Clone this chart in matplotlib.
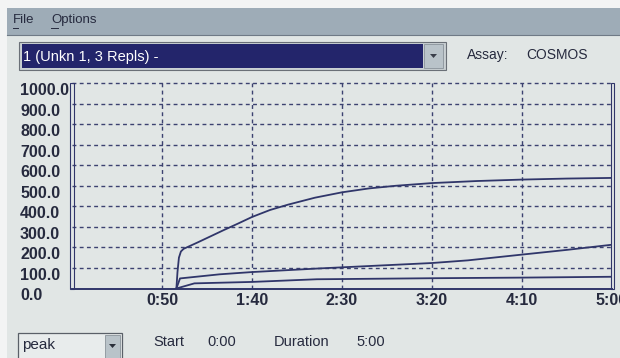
import matplotlib
matplotlib.use("Agg")
import matplotlib.pyplot as plt
from matplotlib.patches import Rectangle, Polygon
from matplotlib.lines import Line2D

# ---------------- data ----------------
x_ticks = [50, 100, 150, 200, 250, 300]
x_tick_labels = ["0:50", "1:40", "2:30", "3:20", "4:10", "5:00"]
y_ticks = [0, 100, 200, 300, 400, 500, 600, 700, 800, 900, 1000]
y_tick_labels = ["0.0", "100.0", "200.0", "300.0", "400.0", "500.0",
                 "600.0", "700.0", "800.0", "900.0", "1000.0"]

rep1_t = [58, 58.6, 59.4, 60.5, 62, 70, 84, 92, 100, 110, 120, 135, 150, 165, 180,
          200, 225, 250, 275, 299]
rep1_v = [0, 80, 150, 180, 193, 225, 283, 315, 348, 382, 408, 442, 468, 487, 500,
          513, 523, 530, 535, 538]

rep2_t = [58, 60, 82, 100, 136, 150, 200, 220, 250, 275, 299]
rep2_v = [0, 49, 69, 80, 97, 103, 124, 137, 165, 188, 212]

rep3_t = [58, 68, 100, 136, 150, 200, 250, 299]
rep3_v = [0, 25, 32, 45, 46, 50, 53, 57]

# ---------------- figure ----------------
W, H = 620, 358
fig = plt.figure(figsize=(W / 100, H / 100), dpi=100)
BG = "#e1e6e5"
fig.patch.set_facecolor(BG)
FONT = ["Liberation Sans", "DejaVu Sans"]
TXT = "#262a3e"
LINE = "#30366a"


def fx(px):
    return px / W


def fy(py):
    return 1 - py / H


# photo border strip + menu bar
fig.add_artist(Rectangle((0, fy(8)), 1, 8 / H, transform=fig.transFigure,
                         facecolor="#f3f4f4", edgecolor="none", zorder=0))
fig.add_artist(Rectangle((0, 0), 7 / W, 1, transform=fig.transFigure,
                         facecolor="#f3f4f4", edgecolor="none", zorder=0))
fig.add_artist(Rectangle((fx(7), fy(35)), 1, 27 / H, transform=fig.transFigure,
                         facecolor="#9eacb7", edgecolor="none", zorder=0))
fig.add_artist(Line2D([fx(7), 1], [fy(35), fy(35)], transform=fig.transFigure,
                      color="#6f7a86", lw=0.8))
fig.text(fx(13), fy(20), "File", family=FONT, fontsize=9.5, color=TXT, va="center")
fig.text(fx(51), fy(20), "Options", family=FONT, fontsize=9.5, color=TXT, va="center")
fig.add_artist(Line2D([fx(13), fx(18)], [fy(28), fy(28)], transform=fig.transFigure, color=TXT, lw=0.7))
fig.add_artist(Line2D([fx(51), fx(58)], [fy(28), fy(28)], transform=fig.transFigure, color=TXT, lw=0.7))

# sample dropdown
fig.add_artist(Rectangle((fx(19), fy(70)), 427 / W, 28 / H, transform=fig.transFigure,
                         facecolor="#c9d0d3", edgecolor="#6a7077", lw=0.8))
fig.add_artist(Rectangle((fx(22), fy(68)), 401 / W, 24 / H, transform=fig.transFigure,
                         facecolor="#23256b", edgecolor="none"))
fig.add_artist(Rectangle((fx(424), fy(68)), 19 / W, 24 / H, transform=fig.transFigure,
                         facecolor="#b9c3c9", edgecolor="#8a939a", lw=0.6))
fig.add_artist(Polygon([[fx(430), fy(54)], [fx(437), fy(54)], [fx(433.5), fy(58)]],
                       closed=True, transform=fig.transFigure, facecolor="#3a3f4a", edgecolor="none"))
fig.text(fx(23), fy(56.5), "1 (Unkn 1, 3 Repls) -", family=FONT, fontsize=10.5,
         color="white", va="center")
fig.text(fx(467), fy(55), "Assay:", family=FONT, fontsize=10, color=TXT, va="center")
fig.text(fx(526), fy(55), "COSMOS", family=FONT, fontsize=10, color=TXT, va="center")

# ---------------- chart ----------------
ax = fig.add_axes([fx(72), fy(288.5), 540 / W, 205.5 / H])
ax.set_facecolor(BG)
ax.set_xlim(0, 300)
ax.set_ylim(0, 1000)

for s in ("top", "left", "right"):
    ax.spines[s].set_visible(False)
ax.spines["bottom"].set_color(LINE)
ax.spines["bottom"].set_linewidth(1.4)

ax.set_xticks(x_ticks)
ax.set_xticklabels(x_tick_labels)
ax.set_yticks(y_ticks)
ax.set_yticklabels(y_tick_labels)
ax.tick_params(axis="both", length=0, colors=TXT, labelsize=11.5)
ax.tick_params(axis="x", pad=3.0)
ax.tick_params(axis="y", pad=37.4)
for lab in ax.get_xticklabels():
    lab.set_family(FONT)
    lab.set_weight("bold")
    lab.set_verticalalignment("top")
for lab in ax.get_yticklabels():
    lab.set_family(FONT)
    lab.set_weight("bold")
    lab.set_horizontalalignment("left")
    lab.set_verticalalignment("top")

grid_kw = dict(color="#3c4270", lw=1.0, linestyle=(0, (2.8, 2.4)))
for v in y_ticks[1:]:
    ax.axhline(v, clip_on=False, zorder=1, **grid_kw)
for t in x_ticks[:-1]:
    ax.axvline(t, zorder=1, **grid_kw)

for t, v in ((rep1_t, rep1_v), (rep2_t, rep2_v), (rep3_t, rep3_v)):
    ax.plot(t, v, color=LINE, lw=1.3, zorder=3)

# double borders left and right
for x0 in (70, 610.5):
    fig.add_artist(Rectangle((fx(x0), fy(289)), 3.5 / W, 206 / H, transform=fig.transFigure,
                             facecolor="none", edgecolor=LINE, lw=0.8, zorder=5))

# ---------------- bottom controls ----------------
fig.add_artist(Rectangle((fx(18), fy(362)), 104 / W, 29 / H, transform=fig.transFigure,
                         facecolor="#e8ecec", edgecolor="#5a6068", lw=0.9))
fig.add_artist(Rectangle((fx(105), fy(360)), 15 / W, 25 / H, transform=fig.transFigure,
                         facecolor="#b9c3c9", edgecolor="#8a939a", lw=0.6))
fig.add_artist(Polygon([[fx(109), fy(344)], [fx(116), fy(344)], [fx(112.5), fy(348)]],
                       closed=True, transform=fig.transFigure, facecolor="#2a2f3a", edgecolor="none"))
fig.text(fx(22), fy(345), "peak", family=FONT, fontsize=11, color=TXT, va="center")
fig.text(fx(153), fy(342), "Start", family=FONT, fontsize=10.5, color=TXT, va="center")
fig.text(fx(207), fy(342), "0:00", family=FONT, fontsize=10.5, color=TXT, va="center")
fig.text(fx(274), fy(342), "Duration", family=FONT, fontsize=10.5, color=TXT, va="center")
fig.text(fx(356), fy(342), "5:00", family=FONT, fontsize=10.5, color=TXT, va="center")

fig.savefig("out.png", dpi=100, facecolor=fig.get_facecolor())
